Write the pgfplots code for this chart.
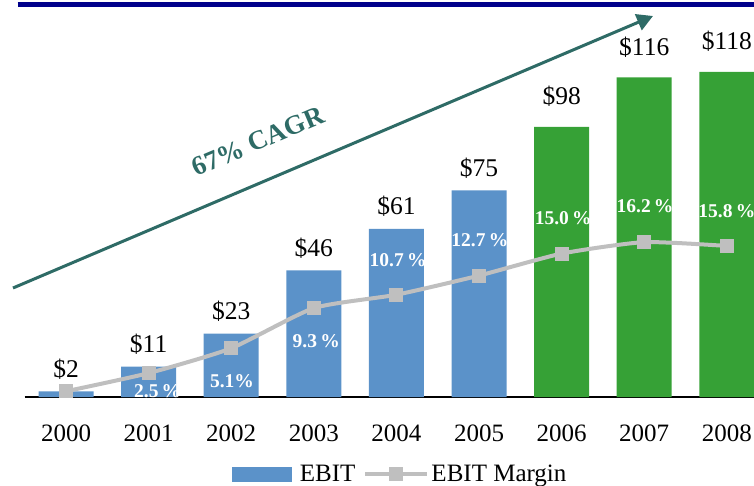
\documentclass[border=0pt]{standalone}
\usepackage{pgfplots}
\pgfplotsset{compat=1.18}
\usepackage{fontspec}
\setmainfont{Liberation Serif}
\usetikzlibrary{arrows.meta}
\definecolor{barblue}{RGB}{91,146,201}
\definecolor{bargreen}{RGB}{54,161,54}
\definecolor{linegrey}{RGB}{191,191,191}
\definecolor{tealtxt}{RGB}{46,107,102}
\definecolor{navybar}{RGB}{0,0,139}
\pgfplotsset{
  common/.style={scale only axis, width=729.4pt, height=358.2pt,
    at={(0pt,0pt)}, anchor=south west, xmin=-0.5, xmax=8.33, clip=false},
  mylinelegend/.style={legend image code/.code={\draw[mark repeat=2,mark phase=2,##1] plot coordinates {(0pt,0pt) (31pt,0pt) (62pt,0pt)};}},
  mybarlegend/.style={legend image code/.code={\fill[barblue] (0pt,-7pt) rectangle (59pt,7pt); \path (66pt,0pt);}}
}
\tikzset{lbl/.style={text=white, font=\bfseries\fontsize{19.5}{22}\selectfont, anchor=center, inner sep=0pt}}
\begin{document}
\begin{tikzpicture}
\begin{axis}[common,
  ymin=0, ymax=130,
  axis y line=none, axis x line*=bottom,
  x axis line style={line width=1.8pt, black},
  xtick={0,1,2,3,4,5,6,7,8},
  xticklabels={2000,2001,2002,2003,2004,2005,2006,2007,2008},
  major tick length=0pt,
  xticklabel style={anchor=base, yshift=-44pt, inner sep=0pt, font=\fontsize{25}{29}\selectfont},
  /pgf/number format/assume math mode=true,
  nodes near coords={\$\pgfmathprintnumber{\pgfplotspointmeta}},
  every node near coord/.append style={anchor=base, inner sep=0pt, font=\fontsize{25.5}{29}\selectfont, text=black},
]
\addplot[ybar, bar width=55pt, bar shift=0pt, fill=barblue, draw=none,
  every node near coord/.append style={yshift=14pt}]
  coordinates {(0,2) (1,11) (2,23) (3,46) (4,61) (5,75)};
\addplot[ybar, bar width=55pt, bar shift=0pt, fill=bargreen, draw=none,
  every node near coord/.append style={yshift=22pt}]
  coordinates {(6,98) (7,116) (8,118)};
\node[lbl] at (axis cs:1.11,2.2) {2.5\,\%};
\node[lbl] at (axis cs:2.01,5.8) {5.1\%};
\node[lbl] at (axis cs:3.03,20.3) {9.3\,\%};
\node[lbl] at (axis cs:4.02,49.7) {10.7\,\%};
\node[lbl] at (axis cs:5.01,57.0) {12.7\,\%};
\node[lbl] at (axis cs:6.02,65.0) {15.0\,\%};
\node[lbl] at (axis cs:7.01,69.3) {16.2\,\%};
\node[lbl] at (axis cs:8.0,67.5) {15.8\,\%};
\end{axis}
\begin{axis}[common,
  ymin=0, ymax=37.47, hide axis,
  legend columns=2,
  legend style={draw=none, fill=none, font=\fontsize{25}{29}\selectfont,
    at={(axis description cs:0.5145,-0.215)}, anchor=center,
    /tikz/every even column/.append style={column sep=6pt}},
]
\addlegendimage{mybarlegend}
\addlegendentry{EBIT}
\addplot[color=linegrey, line width=4pt, smooth, tension=0.35,
  mark=square*, mark size=6.5pt, mark options={fill=linegrey, draw=linegrey, line width=0pt},
  mylinelegend]
  coordinates {(0,0.6) (1,2.5) (2,5.1) (3,9.3) (4,10.7) (5,12.7) (6,15.0) (7,16.2) (8,15.8)};
\addlegendentry{EBIT Margin}
\end{axis}
\draw[navybar, line width=5.6pt] (-7pt,392.5pt) -- (740pt,392.5pt);
\draw[tealtxt, line width=3pt, -{Triangle[length=16pt,width=17pt]}] (-11.7pt,109pt) -- (628.3pt,381pt);
\node[text=tealtxt, anchor=base west, rotate=23, inner sep=0pt, font=\bfseries\fontsize{27}{32}\selectfont] at (172pt,220.3pt) {67\% CAGR};
\pgfresetboundingbox
\useasboundingbox (-24.7pt,-88pt) rectangle (729.3pt,397pt);
\end{tikzpicture}
\end{document}
